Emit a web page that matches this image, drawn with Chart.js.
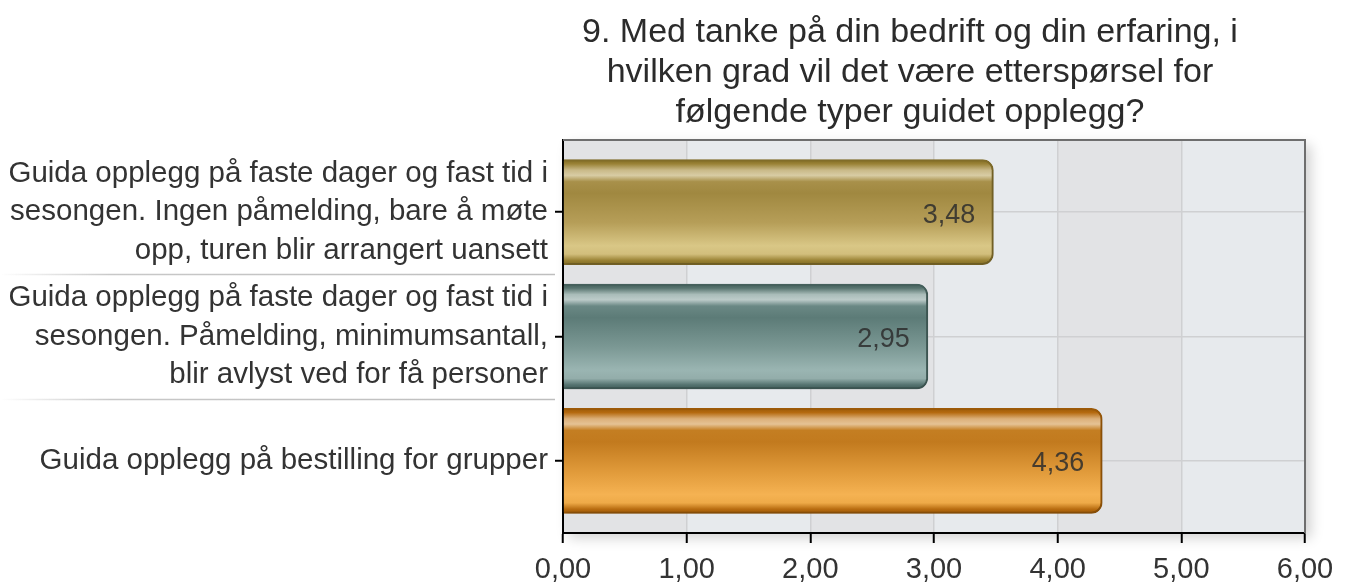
<!DOCTYPE html>
<html>
<head>
<meta charset="utf-8">
<script src="https://cdn.jsdelivr.net/npm/chart.js@4"></script>
<style>
  html, body { margin: 0; padding: 0; background: #ffffff; }
  #wrap { position: relative; width: 1348px; height: 586px; }
  #title {
    position: absolute; left: 560px; top: 10px; width: 700px;
    font-family: 'Liberation Sans', Arial, sans-serif; font-size: 34px; line-height: 40px;
    text-align: center; color: #2b2b2b;
  }
</style>
</head>
<body>
<div id="wrap">
  <canvas id="c" width="1348" height="586"></canvas>
  <div id="title"></div>
</div>
<script>
const titleLines = [
  "9. Med tanke på din bedrift og din erfaring, i",
  "hvilken grad vil det være etterspørsel for",
  "følgende typer guidet opplegg?"
];
const categories = [
  ["Guida opplegg på faste dager og fast tid i", "sesongen. Ingen påmelding, bare å møte", "opp, turen blir arrangert uansett"],
  ["Guida opplegg på faste dager og fast tid i", "sesongen. Påmelding, minimumsantall,", "blir avlyst ved for få personer"],
  ["Guida opplegg på bestilling for grupper"]
];
const values = [3.48, 2.95, 4.36];
const xTickLabels = ["0,00", "1,00", "2,00", "3,00", "4,00", "5,00", "6,00"];

document.getElementById('title').innerHTML = titleLines.join('<br>');

const FONT = "'Liberation Sans', Arial, sans-serif";
const barStyles = [
  { border: '#85702a', stops: [[0,'#7e6a22'],[0.04,'#9a8236'],[0.10,'#c9b988'],[0.15,'#d8cca4'],[0.21,'#a8904a'],[0.32,'#a08840'],[0.6,'#b69e58'],[0.82,'#d9c786'],[0.9,'#d2be7c'],[0.96,'#9a8234'],[1,'#7e6a22']] },
  { border: '#46625e', stops: [[0,'#3f5c58'],[0.04,'#58746f'],[0.10,'#a9bcb9'],[0.15,'#bccbc9'],[0.21,'#6a8884'],[0.32,'#5c7b77'],[0.6,'#7b9894'],[0.82,'#9ab5b2'],[0.9,'#93adaa'],[0.96,'#557370'],[1,'#3f5c58']] },
  { border: '#a05c08', stops: [[0,'#9a5806'],[0.04,'#b56a10'],[0.10,'#dcb07a'],[0.15,'#e5c294'],[0.21,'#c47e22'],[0.32,'#c27a1e'],[0.6,'#e09a3a'],[0.82,'#f5b252'],[0.9,'#eeaa48'],[0.96,'#b86c10'],[1,'#9a5806']] }
];
const BAR_H = 105;

function barFill(ctx) {
  const chart = ctx.chart;
  const st = barStyles[ctx.dataIndex];
  if (!chart.chartArea || !chart.scales.y) return st.stops[6][1];
  const yc = chart.scales.y.getPixelForValue(ctx.dataIndex);
  const g = chart.ctx.createLinearGradient(0, yc - BAR_H / 2, 0, yc + BAR_H / 2);
  st.stops.forEach(s => g.addColorStop(s[0], s[1]));
  return g;
}

const bgPlugin = {
  id: 'bg',
  beforeDraw(chart) {
    const { ctx, chartArea: a, scales: { x, y } } = chart;
    ctx.save();
    ctx.shadowColor = 'rgba(0,0,0,0.18)';
    ctx.shadowBlur = 12; ctx.shadowOffsetX = 6; ctx.shadowOffsetY = 5;
    ctx.fillStyle = '#e5e7ea';
    ctx.fillRect(a.left, a.top, a.width, a.height);
    ctx.restore();
    for (let i = 0; i < 6; i++) {
      const x0 = x.getPixelForValue(i), x1 = x.getPixelForValue(i + 1);
      ctx.fillStyle = i % 2 === 0 ? '#e2e3e5' : '#e7eaed';
      ctx.fillRect(x0, a.top, x1 - x0, a.height);
    }
    // separators between category labels
    for (let i = 0; i < categories.length - 1; i++) {
      const py = Math.round(y.getPixelForValue(i + 0.5)) + 0.5;
      const g = ctx.createLinearGradient(0, 0, a.left - 8, 0);
      g.addColorStop(0, 'rgba(200,200,200,0)');
      g.addColorStop(0.2, 'rgba(200,200,200,1)');
      g.addColorStop(1, 'rgba(190,190,190,1)');
      ctx.strokeStyle = g; ctx.lineWidth = 1.5;
      ctx.beginPath(); ctx.moveTo(0, py); ctx.lineTo(a.left - 8, py); ctx.stroke();
    }
  },
  beforeDatasetsDraw(chart) {
    const ctx = chart.ctx;
    ctx.save();
    ctx.shadowColor = 'rgba(0,0,0,0.22)';
    ctx.shadowBlur = 6; ctx.shadowOffsetX = 2; ctx.shadowOffsetY = 3;
  },
  afterDatasetsDraw(chart) {
    const ctx = chart.ctx;
    ctx.restore();
    const meta = chart.getDatasetMeta(0);
    ctx.save();
    ctx.font = '27px ' + FONT;
    ctx.fillStyle = 'rgba(45,45,45,0.85)';
    ctx.textAlign = 'right';
    ctx.textBaseline = 'middle';
    meta.data.forEach((el, i) => {
      ctx.fillText(values[i].toFixed(2).replace('.', ','), el.x - 18, el.y + 3);
    });
    ctx.restore();
  },
  afterDraw(chart) {
    const { ctx, chartArea: a } = chart;
    ctx.save();
    ctx.strokeStyle = '#6e6e6e'; ctx.lineWidth = 2;
    ctx.beginPath();
    ctx.moveTo(a.left, a.top); ctx.lineTo(a.right, a.top); ctx.lineTo(a.right, a.bottom);
    ctx.stroke();
    ctx.restore();
  }
};

new Chart(document.getElementById('c'), {
  type: 'bar',
  data: {
    datasets: [{
      data: values.map((v, i) => ({ x: v, y: i })),
      backgroundColor: barFill,
      borderColor: ctx => barStyles[ctx.dataIndex].border,
      borderWidth: 2,
      borderSkipped: 'start',
      borderRadius: 11,
      barThickness: BAR_H
    }]
  },
  options: {
    indexAxis: 'y',
    responsive: false,
    animation: false,
    layout: { padding: { top: 140, right: 43, left: 0, bottom: 0 } },
    plugins: { legend: { display: false }, tooltip: { enabled: false }, title: { display: false } },
    scales: {
      x: {
        type: 'linear', min: 0, max: 6,
        ticks: { stepSize: 1, callback: (v, i) => xTickLabels[i], font: { family: FONT, size: 29 }, color: '#333333', padding: 10 },
        grid: { color: '#cfd0d2', lineWidth: 1.5, tickLength: 10, tickColor: '#000000', tickWidth: 2 },
        border: { color: '#000000', width: 2 },
        afterFit: s => { s.height = 53; s.paddingLeft = 0; s.paddingRight = 0; }
      },
      y: {
        type: 'linear', reverse: true, min: -0.58, max: 2.58, offset: false,
        afterBuildTicks: s => { s.ticks = categories.map((_, i) => ({ value: i })); },
        ticks: { autoSkip: false, callback: v => categories[v], font: { family: FONT, size: 29.5, lineHeight: '38.5px' }, color: '#333333', padding: 7 },
        grid: { offset: false, color: '#cfd0d2', lineWidth: 1.5, tickLength: 8, tickColor: '#000000', tickWidth: 2 },
        border: { color: '#000000', width: 2 },
        afterFit: s => { s.width = 563; s.paddingTop = 0; s.paddingBottom = 0; }
      }
    }
  },
  plugins: [bgPlugin]
});
</script>
</body>
</html>
